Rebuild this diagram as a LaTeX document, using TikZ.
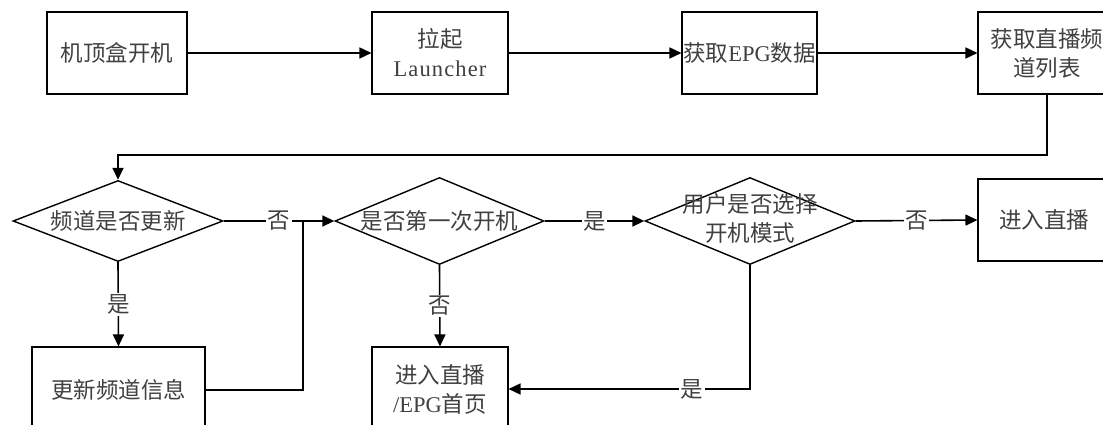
\documentclass[tikz,border=0pt]{standalone}
\usepackage{fontspec}
\setmainfont{Liberation Serif}
\newfontfamily\cjk{Noto Sans CJK SC}
\usetikzlibrary{shapes.geometric,arrows.meta}
\newcommand\mainfs{\fontsize{22.5}{29}\selectfont\cjk}
\newcommand\lat[1]{{\rmfamily #1}}
\tikzset{
  box/.style={draw, line width=1.1pt, rectangle, inner sep=0pt, align=center, font=\mainfs, text=black!75},
  dia/.style={draw, line width=1.4pt, shape=diamond, inner sep=0pt},
  txt/.style={align=center, font=\mainfs, text=black!75, inner sep=0pt},
  lab/.style={fill=white, inner sep=1.5pt, font=\mainfs, text=black!75},
  conn/.style={line width=1.6pt, -{Triangle[length=12pt,width=11pt]}},
  plain/.style={line width=1.6pt}
}
\begin{document}
\begin{tikzpicture}[x=1pt, y=-1pt]
\useasboundingbox (0,0) rectangle (1103,425);
\clip (0,0) rectangle (1103,425);
% top row
\node[box, minimum width=140pt, minimum height=82pt] (b1) at (117,53) {机顶盒开机};
\node[box, minimum width=136pt, minimum height=82pt] (b2) at (440,53) {拉起\\\lat{\addfontfeature{LetterSpace=5}Launcher}};
\node[box, minimum width=135pt, minimum height=82pt] (b3) at (749.5,53) {获取\lat{EPG}数据};
\node[box, minimum width=138pt, minimum height=82pt] (b4) at (1047,53) {获取直播频\\道列表};
% decisions
\node[dia, minimum width=210pt, minimum height=81pt] (d1) at (118,221) {};
\node[txt] (t1) at (d1) {频道是否更新};
\node[dia, minimum width=209pt, minimum height=87pt] (d2) at (439.5,221) {};
\node[txt] (t2) at (d2) {是否第一次开机};
\node[dia, minimum width=210pt, minimum height=87pt] (d3) at (750,221) {};
\node[txt] (t3) at ([yshift=3pt]d3.center) {用户是否选择\\开机模式};
% other boxes
\node[box, minimum width=132pt, minimum height=82pt] (b7) at (1044,220) {进入直播};
\node[box, minimum width=173pt, minimum height=86pt] (b5) at (118.5,390) {更新频道信息};
\node[box, minimum width=136pt, minimum height=84pt] (b6) at (440,389) {进入直播\\\lat{/EPG}首页};
% connectors
\draw[conn] (b1) -- (b2);
\draw[conn] (b2) -- (b3);
\draw[conn] (b3) -- (b4);
\coordinate (c1) at (118,155);
\draw[conn] (b4.south) |- (c1) -- (d1.north);
\draw[conn] (d1.east) -- node[lab] {否} (d2.west);
\draw[conn] (d1.south) -- node[lab] {是} (b5.north);
\coordinate (j1) at (303,221);
\draw[plain] (b5.east) -| (j1);
\draw[conn] (d2.south) -- node[lab] {否} (b6.north);
\draw[conn] (d2.east) -- node[lab] {是} (d3.west);
\draw[conn] (d3.east) -- node[lab] {否} (b7.west);
\draw[conn] (d3.south) |- node[lab, pos=0.62] {是} (b6.east);
\end{tikzpicture}
\end{document}
